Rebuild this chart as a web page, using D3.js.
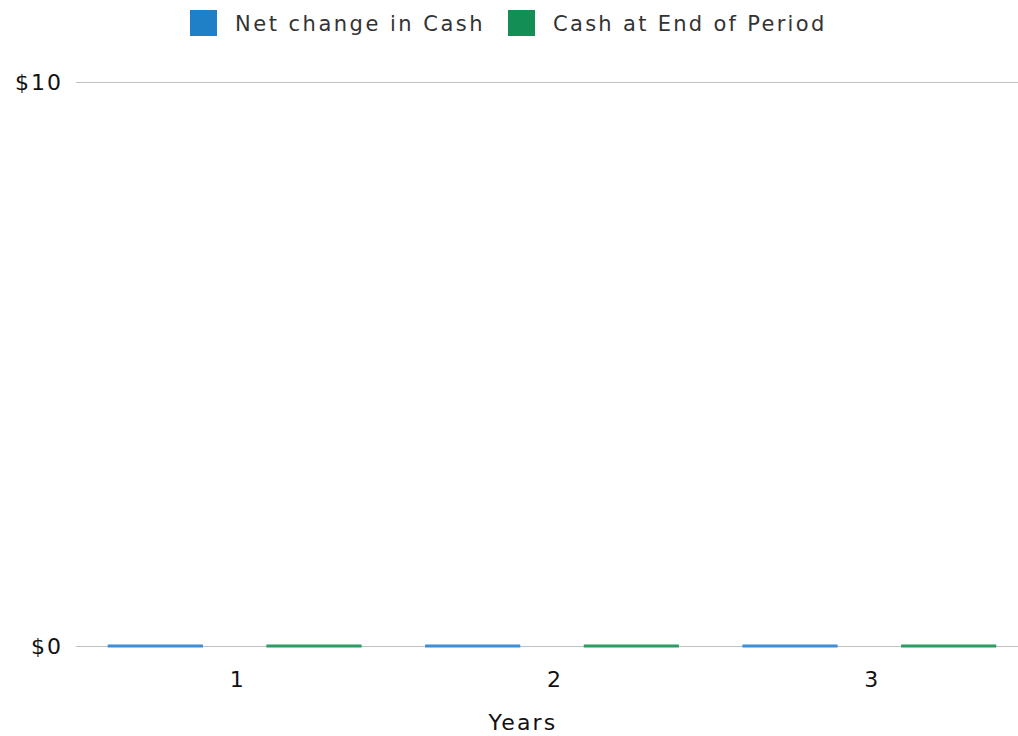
<!DOCTYPE html>
<html><head><meta charset="utf-8">
<script src="https://cdn.jsdelivr.net/npm/d3@7"></script>
<style>body{margin:0;background:#fff;} svg{display:block;} text{font-family:"DejaVu Sans",sans-serif;}</style>
</head><body>
<svg id="c" width="1018" height="736"></svg>
<script>
const categories = ["1","2","3"];
const seriesNames = ["Net change in Cash","Cash at End of Period"];
const netChange = [0,0,0];
const cashEnd = [0,0,0];
const yTicks = [0,10];
const colors = ["#1f80c8","#138f55"];
const barColors = ["#3a8fd6","#2a9d62"];

const svg = d3.select("#c");
const x0 = d3.scaleBand().domain(categories).range([76,1028]).paddingInner(0.2).paddingOuter(0.1);
const x1 = d3.scaleBand().domain(seriesNames).range([0,x0.bandwidth()]).paddingInner(0.4);
const y = d3.scaleLinear().domain([0,10]).range([646,82]);

// grid
svg.append("g").selectAll("line").data(yTicks).join("line")
  .attr("x1",76).attr("x2",1018).attr("y1",d=>y(d)).attr("y2",d=>y(d))
  .attr("stroke","#c0c0c0").attr("stroke-width",1).attr("shape-rendering","crispEdges");
svg.append("g").selectAll("text").data(yTicks).join("text")
  .attr("x",63).attr("y",d=>y(d)).attr("dy","0.36em").attr("text-anchor","end")
  .attr("font-size",22).attr("letter-spacing",2).attr("fill","#111").text(d=>"$"+d);

const data = categories.map((c,i)=>({c, vals:[netChange[i],cashEnd[i]]}));
const g = svg.append("g").selectAll("g").data(data).join("g").attr("transform",d=>`translate(${x0(d.c)},0)`);
g.selectAll("rect").data(d=>d.vals.map((v,j)=>({v,j}))).join("rect")
  .attr("x",d=>x1(seriesNames[d.j])).attr("width",x1.bandwidth())
  .attr("y",d=>Math.min(y(d.v),y(0))-1.5).attr("height",d=>Math.abs(y(0)-y(d.v))+3)
  .attr("fill",d=>barColors[d.j]);

// x labels
svg.append("g").selectAll("text").data(categories).join("text")
  .attr("x",d=>x0(d)+x0.bandwidth()/2+2).attr("y",687).attr("text-anchor","middle")
  .attr("font-size",22).attr("fill","#111").text(d=>d);
svg.append("text").attr("x",523).attr("y",730).attr("text-anchor","middle")
  .attr("font-size",22).attr("letter-spacing",2.2).attr("fill","#111").text("Years");

// legend
const leg = [{x:190,tx:235,ls:2.5},{x:508,tx:553,ls:2.3}];
seriesNames.forEach((n,i)=>{
  svg.append("rect").attr("x",leg[i].x).attr("y",10).attr("width",27).attr("height",26).attr("fill",colors[i]);
  svg.append("text").attr("x",leg[i].tx).attr("y",23).attr("dy","0.36em").attr("font-size",21)
    .attr("letter-spacing",leg[i].ls).attr("fill","#333").text(n);
});
</script></body></html>
